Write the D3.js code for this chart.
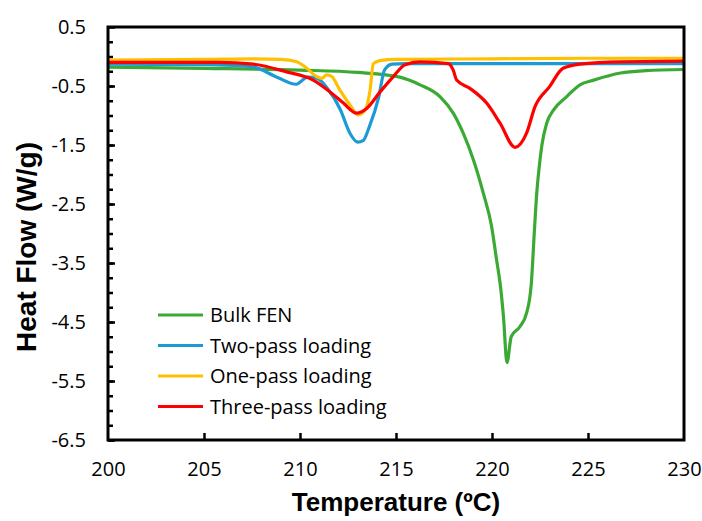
<!DOCTYPE html>
<html>
<head>
<meta charset="utf-8">
<script src="https://cdn.jsdelivr.net/npm/d3@7"></script>
<style>
  body { margin: 0; background: #fff; }
  .tick text { font-family: "Open Sans", sans-serif; font-size: 20px; fill: #000; }
  .gv-title { font-family: "Liberation Sans", Arial, sans-serif; font-weight: bold; fill: #000; }
  .gv-legend { font-family: "Open Sans", sans-serif; font-size: 20px; fill: #000; }
</style>
</head>
<body>
<div class="chart"></div>
<script>
// tick values
var xTicks = [200, 205, 210, 215, 220, 225, 230]
var yTicks = [0.5, -0.5, -1.5, -2.5, -3.5, -4.5, -5.5, -6.5]

// series names / colours (legend order)
var seriesNames = ["Bulk FEN", "Two-pass loading", "One-pass loading", "Three-pass loading"]
var seriesColours = ["#3aaa35", "#1c9ad6", "#ffc000", "#ff0000"]

// Bulk FEN
var bulkT = [200, 205, 210, 213, 215.2, 216.25, 217.29, 217.98, 218.5, 219.03, 219.55, 219.98, 220.24, 220.42, 220.6, 220.78, 221.0, 221.45, 221.8, 222.05, 222.2, 222.33, 222.45, 222.6, 222.85, 223.2, 223.89, 224.58, 225.3, 226.7, 228, 230]
var bulkV = [-0.18, -0.2, -0.23, -0.27, -0.35, -0.48, -0.68, -0.96, -1.3, -1.75, -2.32, -2.88, -3.45, -3.84, -4.42, -5.19, -4.75, -4.58, -4.35, -3.84, -3.0, -2.32, -1.9, -1.5, -1.13, -0.91, -0.68, -0.48, -0.4, -0.28, -0.24, -0.22]

// Two-pass loading
var twoT = [200, 205, 207, 207.6, 208.8, 209.8, 210.4, 210.9, 211.4, 212.1, 212.6, 213.0, 213.3, 213.6, 214.1, 214.4, 214.8, 215.5, 220, 225, 230]
var twoV = [-0.13, -0.14, -0.16, -0.18, -0.35, -0.47, -0.35, -0.37, -0.53, -0.9, -1.3, -1.45, -1.42, -1.2, -0.69, -0.23, -0.13, -0.12, -0.12, -0.12, -0.12]

// One-pass loading
var oneT = [200, 205, 207.6, 209, 209.83, 210.35, 210.87, 211.13, 211.39, 211.65, 212.08, 212.6, 213.04, 213.39, 213.65, 213.82, 214.17, 215, 220, 225, 230]
var oneV = [-0.06, -0.05, -0.04, -0.05, -0.09, -0.2, -0.34, -0.37, -0.31, -0.34, -0.57, -0.82, -0.99, -0.91, -0.57, -0.12, -0.07, -0.05, -0.04, -0.03, -0.03]

// Three-pass loading
var threeT = [200, 205.8, 207.57, 209.3, 210.69, 211.56, 212.26, 212.95, 213.47, 214.17, 214.86, 215.47, 216.25, 217.73, 217.98, 218.16, 218.85, 219.72, 220.42, 221.2, 221.8, 222.24, 223.0, 223.7, 224.58, 226.67, 230]
var threeV = [-0.1, -0.1, -0.13, -0.26, -0.4, -0.6, -0.79, -0.96, -0.88, -0.6, -0.34, -0.14, -0.09, -0.12, -0.23, -0.4, -0.54, -0.79, -1.13, -1.54, -1.3, -0.85, -0.51, -0.2, -0.13, -0.09, -0.08]

var seriesT = [bulkT, twoT, oneT, threeT]
var seriesV = [bulkV, twoV, oneV, threeV]

var width = 702, height = 521
var margin = {left: 108, right: 18, top: 27, bottom: 81}

var svg = d3.select(".chart").append("svg")
    .attr("width", width)
    .attr("height", height)

var x = d3.scaleLinear().domain([200, 230]).range([margin.left, width - margin.right])
var y = d3.scaleLinear().domain([-6.5, 0.5]).range([height - margin.bottom, margin.top])

// minor y ticks every 0.25
var yMinor = d3.range(-6.5, 0.5, 0.25)

svg.append("g")
    .attr("transform", `translate(${margin.left},0)`)
    .call(d3.axisLeft(y).tickValues(yMinor).tickSize(-5).tickFormat(""))
    .call(g => g.select(".domain").remove())
    .call(g => g.selectAll("line").attr("stroke", "#000").attr("stroke-width", 2.5))

svg.append("g")
    .attr("transform", `translate(${margin.left},0)`)
    .call(d3.axisLeft(y).tickValues(yTicks).tickSize(-7).tickPadding(22).tickFormat(d3.format(".1f")))
    .call(g => g.select(".domain").remove())
    .call(g => g.selectAll("line").attr("stroke", "#000").attr("stroke-width", 2.5))
    .call(g => g.selectAll("text").text(d => d3.format(".1f")(d).replace("−", "-")))

svg.append("g")
    .attr("transform", `translate(0,${height - margin.bottom})`)
    .call(d3.axisBottom(x).tickValues(xTicks).tickSize(-7).tickPadding(22))
    .call(g => g.select(".domain").remove())
    .call(g => g.selectAll("line").attr("stroke", "#000").attr("stroke-width", 2.5))
    .call(g => g.selectAll(".tick").filter(d => d === 200 || d === 230).select("line").remove())

var line = d3.line()
    .x(d => x(d[0]))
    .y(d => y(d[1]))
    .curve(d3.curveMonotoneX)

seriesT.forEach((ts, i) => {
    var pts = ts.map((t, j) => [t, seriesV[i][j]])
    svg.append("path")
        .datum(pts)
        .attr("d", line)
        .attr("fill", "none")
        .attr("stroke", seriesColours[i])
        .attr("stroke-width", 3.2)
        .attr("stroke-linejoin", "round")
})

// frame
svg.append("rect")
    .attr("x", margin.left)
    .attr("y", margin.top)
    .attr("width", width - margin.left - margin.right)
    .attr("height", height - margin.top - margin.bottom)
    .attr("fill", "none")
    .attr("stroke", "#000")
    .attr("stroke-width", 3)

// legend
var legend = svg.append("g").selectAll("g")
    .data(seriesNames)
    .enter()
    .append("g")
    .attr("transform", (d, i) => `translate(158,${315 + i * 30.5})`)

legend.append("line")
    .attr("x1", 0).attr("x2", 45)
    .attr("stroke", (d, i) => seriesColours[i])
    .attr("stroke-width", 3)

legend.append("text")
    .attr("class", "gv-legend")
    .attr("x", 52)
    .attr("dy", "0.35em")
    .text(d => d)

// axis titles
svg.append("text")
    .attr("class", "gv-title")
    .attr("x", (margin.left + width - margin.right) / 2)
    .attr("y", 511)
    .attr("text-anchor", "middle")
    .style("font-size", "26px")
    .text("Temperature (ºC)")

svg.append("text")
    .attr("class", "gv-title")
    .attr("transform", "translate(36,247) rotate(-90)")
    .attr("text-anchor", "middle")
    .style("font-size", "28px")
    .text("Heat Flow (W/g)")
</script>
</body>
</html>
